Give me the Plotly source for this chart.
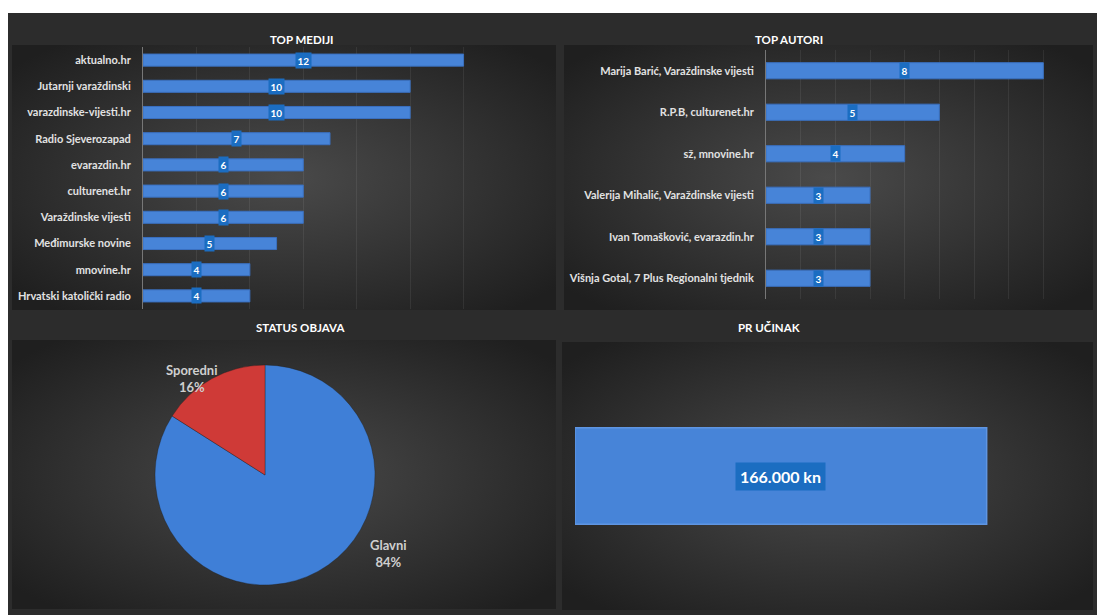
import base64
import plotly.graph_objects as go

# ---------------- data ----------------
mediji_names = ["aktualno.hr", "Jutarnji varaždinski", "varazdinske-vijesti.hr",
                "Radio Sjeverozapad", "evarazdin.hr", "culturenet.hr",
                "Varaždinske vijesti", "Međimurske novine", "mnovine.hr",
                "Hrvatski katolički radio"]
mediji_values = [12, 10, 10, 7, 6, 6, 6, 5, 4, 4]

autori_names = ["Marija Barić, Varaždinske vijesti", "R.P.B, culturenet.hr",
                "sž, mnovine.hr", "Valerija Mihalić, Varaždinske vijesti",
                "Ivan Tomašković, evarazdin.hr", "Višnja Gotal, 7 Plus Regionalni tjednik"]
autori_values = [8, 5, 4, 3, 3, 3]

status_labels = ["Glavni", "Sporedni"]
status_values = [84, 16]

pr_label = ["PR učinak"]
pr_values = [166000]

# ---------------- helpers ----------------
W, H = 1097, 615
FONT = "Lato"
BAR = "#4784d8"
BAR_LINE = "#3a70c0"
BOX = "#1b6dc1"
TXT = "#e2e2e2"


def px(x):
    return x / W


def py(y):
    return 1 - y / H


def svg_uri(w, h, inner="#4a4a4a", outer="#1f1f1f", plain=None):
    if plain:
        s = (f'<svg xmlns="http://www.w3.org/2000/svg" width="{w}" height="{h}">'
             f'<rect width="100%" height="100%" fill="{plain}"/></svg>')
    else:
        s = (f'<svg xmlns="http://www.w3.org/2000/svg" width="{w}" height="{h}" preserveAspectRatio="none">'
             f'<defs><radialGradient id="g" cx="50%" cy="50%" r="65%">'
             f'<stop offset="0%" stop-color="{inner}"/><stop offset="100%" stop-color="{outer}"/>'
             f'</radialGradient></defs><rect width="100%" height="100%" fill="url(#g)"/></svg>')
    return "data:image/svg+xml;base64," + base64.b64encode(s.encode()).decode()


def bg_image(x0, y0, x1, y1, **kw):
    return dict(source=svg_uri(x1 - x0, y1 - y0, **kw), xref="paper", yref="paper",
                x=px(x0), y=py(y0), sizex=(x1 - x0) / W, sizey=(y1 - y0) / H,
                xanchor="left", yanchor="top", sizing="stretch", layer="below")


fig = go.Figure()

# TOP MEDIJI
fig.add_trace(go.Bar(x=mediji_values, y=mediji_names, orientation="h",
                     marker=dict(color=BAR, line=dict(color=BAR_LINE, width=1)),
                     width=0.46, xaxis="x", yaxis="y", hoverinfo="x+y"))
# TOP AUTORI
fig.add_trace(go.Bar(x=autori_values, y=autori_names, orientation="h",
                     marker=dict(color=BAR, line=dict(color=BAR_LINE, width=1)),
                     width=0.39, xaxis="x2", yaxis="y2", hoverinfo="x+y"))
# PR UČINAK
fig.add_trace(go.Bar(x=pr_values, y=pr_label, orientation="h",
                     marker=dict(color=BAR, line=dict(color="#5f95e2", width=1.5)),
                     width=0.36, xaxis="x3", yaxis="y3", hoverinfo="x"))
# STATUS OBJAVA
cx, cy, r = 265, 475, 110
fig.add_trace(go.Pie(labels=status_labels, values=status_values, sort=False,
                     direction="clockwise", rotation=0, textinfo="none",
                     marker=dict(colors=["#3f7fd7", "#cf3a37"],
                                 line=dict(color="rgba(30,30,30,0.35)", width=1)),
                     domain=dict(x=[px(cx - r), px(cx + r)], y=[py(cy + r), py(cy - r)]),
                     showlegend=False, hoverinfo="label+percent"))

annotations = []
# data labels for bars
for n, v in zip(mediji_names, mediji_values):
    annotations.append(dict(x=v / 2, y=n, xref="x", yref="y", text=f"<b>{v}</b>",
                            showarrow=False, bgcolor=BOX, borderpad=1.5,
                            font=dict(family=FONT, size=10, color="white")))
for n, v in zip(autori_names, autori_values):
    annotations.append(dict(x=v / 2, y=n, xref="x2", yref="y2", text=f"<b>{v}</b>",
                            showarrow=False, bgcolor=BOX, borderpad=1.5,
                            font=dict(family=FONT, size=10, color="white")))
for n, v in zip(pr_label, pr_values):
    annotations.append(dict(x=v / 2, y=n, xref="x3", yref="y3",
                            text="<b>" + f"{v:,}".replace(",", ".") + " kn</b>",
                            showarrow=False, bgcolor=BOX, borderpad=4,
                            font=dict(family=FONT, size=16, color="white")))
# pie labels
tot = sum(status_values)
pie_label_pos = {"Glavni": (388, 572), "Sporedni": (164, 378)}
for lab, v in zip(status_labels, status_values):
    lx, ly = pie_label_pos[lab]
    annotations.append(dict(x=px(lx), y=py(ly), xref="paper", yref="paper",
                            text=f"<b>{lab}<br>{round(100 * v / tot)}%</b>",
                            showarrow=False, align="center",
                            font=dict(family=FONT, size=13, color="#cfcfcf")))
# titles
for t, x, y in [("TOP MEDIJI", 268, 31), ("TOP AUTORI", 825, 31),
                ("STATUS OBJAVA", 254, 327), ("PR UČINAK", 802, 327)]:
    annotations.append(dict(x=px(x), y=py(y), xref="paper", yref="paper",
                            text=f"<b>{t}</b>", showarrow=False,
                            font=dict(family=FONT, size=11.5, color="white")))

images = [
    bg_image(8, 13, 1097, 615, plain="#2c2c2c"),
    bg_image(12, 45, 556, 310),
    bg_image(564, 45, 1093, 310),
    bg_image(12, 340, 556, 609),
    bg_image(562, 342, 1093, 610),
]

grid = "rgba(255,255,255,0.07)"
cat_font = dict(family=FONT, size=11, color=TXT, weight="bold")

fig.update_layout(
    width=W, height=H,
    margin=dict(l=0, r=0, t=0, b=0),
    paper_bgcolor="white",
    plot_bgcolor="rgba(0,0,0,0)",
    showlegend=False,
    images=images,
    annotations=annotations,
    xaxis=dict(domain=[px(143), px(517)], range=[0, 14], dtick=2, showgrid=True,
               gridcolor=grid, zeroline=False, showticklabels=False, anchor="y"),
    yaxis=dict(domain=[py(309), py(47)], autorange="reversed", showline=True,
               linecolor="#777777", linewidth=1, tickfont=cat_font, ticks="",
               ticklabelstandoff=9, anchor="x", showgrid=False),
    xaxis2=dict(domain=[px(766), px(1078)], range=[0, 9], dtick=1, showgrid=True,
                gridcolor=grid, zeroline=False, showticklabels=False, anchor="y2"),
    yaxis2=dict(domain=[py(299), py(50)], autorange="reversed", showline=True,
                linecolor="#777777", linewidth=1, tickfont=cat_font, ticks="",
                ticklabelstandoff=9, anchor="x2", showgrid=False),
    xaxis3=dict(domain=[px(575), px(1071)], range=[0, 200000], showgrid=False,
                zeroline=False, showticklabels=False, anchor="y3"),
    yaxis3=dict(domain=[py(610), py(342)], showticklabels=False, showgrid=False,
                showline=False, anchor="x3"),
)

fig.write_html("out.html", config={"displayModeBar": False},
               post_script="document.body.style.margin='0';document.body.style.overflow='hidden';")
